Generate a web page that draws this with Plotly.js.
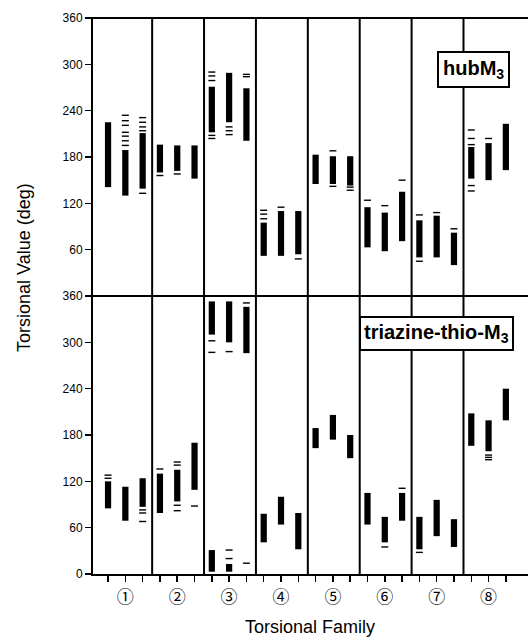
<!DOCTYPE html>
<html>
<head>
<meta charset="utf-8">
<script src="https://cdn.plot.ly/plotly-3.0.1.min.js"></script>
<style>html,body{margin:0;padding:0;background:#fff;}#chart{width:528px;height:637px;}</style>
</head>
<body>
<div id="chart"></div>
<script>
// Column index 1..24 (3 columns per torsional family, 8 families)
const familyLabels = ['①','②','③','④','⑤','⑥','⑦','⑧'];
const columnsPerFamily = 3;

// hubM3 panel (top): dense core range of each column, plus isolated values
const hubLo = [141,130,139, 160,162,152, 212,225,201, 52,52,54, 145,145,143, 63,58,71, 50,50,40, 152,150,163];
const hubHi = [225,189,211, 196,195,195, 271,289,269, 95,110,110, 183,181,181, 115,108,135, 98,104,82, 193,198,223];
const hubDashes = [
  [], [195,201,207,212,221,227,234], [133,214,219,225,231],
  [156], [158], [],
  [204,208,279,285,290], [209,214,219], [284,287],
  [100,106,111], [115], [48],
  [], [142,188], [137,141],
  [124], [117], [150],
  [45,105], [108], [87],
  [136,143,196,204,215], [204], []
];

// triazine-thio-M3 panel (bottom)
const triLo = [85,69,87, 79,94,109, 310,300,286, 41,64,32, 163,174,150, 64,41,69, 32,49,35, 166,159,199];
const triHi = [120,113,124, 130,135,170, 353,353,346, 78,100,79, 189,206,180, 105,74,105, 74,96,71, 208,199,240];
// second (wrapped-around) dense cluster near 0 deg
const triLo2 = [null,null,null, null,null,null, 3,3,null, null,null,null, null,null,null, null,null,null, null,null,null, null,null,null];
const triHi2 = [null,null,null, null,null,null, 31,13,null, null,null,null, null,null,null, null,null,null, null,null,null, null,null,null];
const triDashes = [
  [124,128], [], [68,79,83],
  [136], [82,89,141,145], [88],
  [287,302], [288,20,31], [351,14],
  [], [], [],
  [], [], [],
  [], [35], [111],
  [28], [], [],
  [], [148,151,154], []
];

const yTicks = [0,60,120,180,240,300,360];
const yTicksTop = [60,120,180,240,300,360];

const cols = hubLo.map((_, i) => i + 1);

function coreTrace(lo, hi, yaxis) {
  const x = [], base = [], h = [];
  lo.forEach((v, i) => {
    if (v === null || hi[i] === null) return;
    x.push(cols[i]); base.push(v); h.push(hi[i] - v);
  });
  return {type:'bar', x:x, y:h, base:base, width:0.36, yaxis:yaxis, xaxis:'x',
    marker:{color:'#000', line:{width:0}}, hoverinfo:'skip', showlegend:false};
}
function dashTrace(dashes, yaxis) {
  const x = [], y = [];
  dashes.forEach((arr, i) => arr.forEach(v => { x.push(cols[i]); y.push(v); }));
  return {type:'scatter', mode:'markers', x:x, y:y, yaxis:yaxis, xaxis:'x',
    marker:{symbol:'line-ew', size:5, line:{width:1.4, color:'#000'}, color:'#000'},
    hoverinfo:'skip', showlegend:false};
}

const data = [
  coreTrace(hubLo, hubHi, 'y2'), dashTrace(hubDashes, 'y2'),
  coreTrace(triLo, triHi, 'y'), coreTrace(triLo2, triHi2, 'y'), dashTrace(triDashes, 'y')
];

const tickText = cols.map(c => ((c - 2) % columnsPerFamily === 0) ? familyLabels[(c - 2) / columnsPerFamily] : ' ');

const shapes = [
  {type:'line', xref:'paper', yref:'paper', x0:-0.012, x1:1, y0:1, y1:1, line:{color:'#000', width:2}},
  {type:'line', xref:'paper', yref:'paper', x0:-0.012, x1:1, y0:0.5, y1:0.5, line:{color:'#000', width:2}}
];
for (let f = 1; f < familyLabels.length; f++) {
  shapes.push({type:'line', xref:'x', yref:'paper', x0:f*columnsPerFamily+0.55, x1:f*columnsPerFamily+0.55, y0:0, y1:1,
    line:{color:'#000', width:2}});
}

const font = 'Liberation Sans, Arial, Helvetica, sans-serif';
const layout = {
  width:528, height:637,
  margin:{l:93, r:0, t:18, b:63},
  paper_bgcolor:'#fff', plot_bgcolor:'#fff',
  barmode:'overlay',
  font:{family:font, color:'#000', size:12},
  xaxis:{range:[0.13, 25.28], anchor:'y', tickmode:'array', tickvals:cols, ticktext:tickText,
    ticks:'outside', ticklen:6, tickwidth:1.5, tickcolor:'#000',
    showline:true, linecolor:'#000', linewidth:2, showgrid:false, zeroline:false,
    tickfont:{family:'Noto Sans CJK JP, DejaVu Sans, sans-serif', size:17}, ticklabelstandoff:1},
  yaxis:{domain:[0,0.5], range:[0,360], tickmode:'array', tickvals:yTicks, ticktext:yTicks.map(String),
    ticks:'outside', ticklen:6, tickwidth:1.5, tickcolor:'#000', showline:true, linecolor:'#000', linewidth:2,
    showgrid:false, zeroline:false, tickfont:{size:12}},
  yaxis2:{domain:[0.5,1], range:[0,360], anchor:'x', tickmode:'array', tickvals:yTicksTop, ticktext:yTicksTop.map(String),
    ticks:'outside', ticklen:6, tickwidth:1.5, tickcolor:'#000', showline:true, linecolor:'#000', linewidth:2,
    showgrid:false, zeroline:false, tickfont:{size:12}},
  shapes:shapes,
  annotations:[
    {text:'hubM<sub>3</sub>', xref:'paper', yref:'paper', x:0.875, y:0.908, xanchor:'center', yanchor:'middle', showarrow:false,
      font:{family:font, size:20, weight:'bold', color:'#000'}, bgcolor:'#fff', bordercolor:'#000', borderwidth:2, borderpad:4},
    {text:'triazine-thio-M<sub>3</sub>', xref:'paper', yref:'paper', x:0.790, y:0.432, xanchor:'center', yanchor:'middle', showarrow:false,
      font:{family:font, size:20, weight:'bold', color:'#000'}, bgcolor:'#fff', bordercolor:'#000', borderwidth:2, borderpad:3},
    {text:'Torsional Value (deg)', xref:'paper', yref:'paper', x:-0.159, y:0.552, textangle:-90, showarrow:false,
      xanchor:'center', yanchor:'middle', font:{family:font, size:18, color:'#000'}},
    {text:'Torsional Family', xref:'paper', yref:'paper', x:0.499, y:-0.095, showarrow:false,
      xanchor:'center', yanchor:'middle', font:{family:font, size:18, color:'#000'}}
  ]
};

Plotly.newPlot('chart', data, layout, {staticPlot:true, displayModeBar:false});
</script>
</body>
</html>
